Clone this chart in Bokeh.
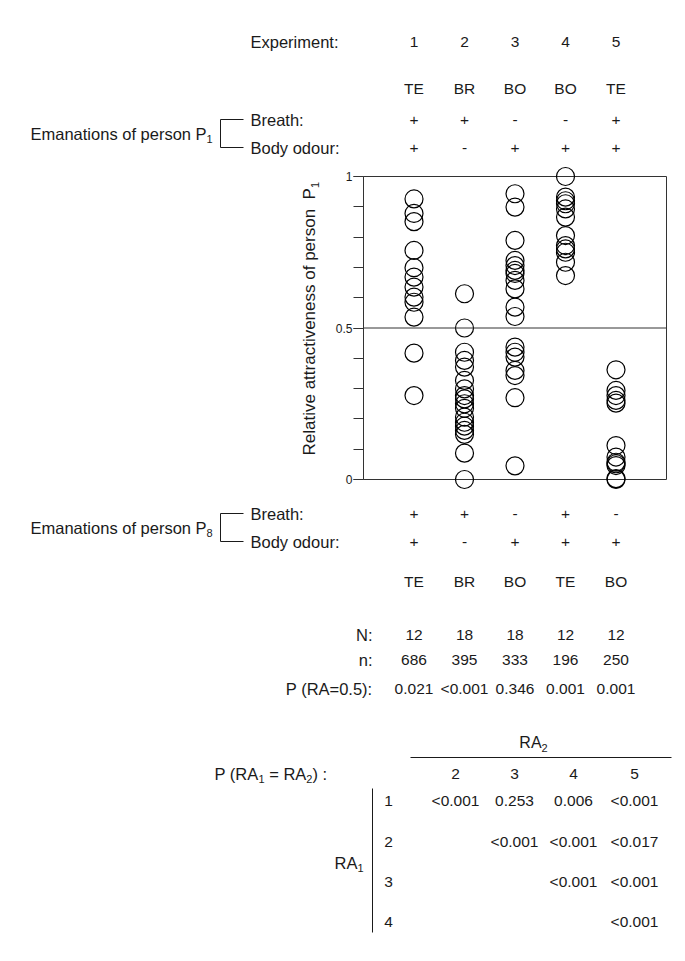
from math import pi
from bokeh.plotting import figure
from bokeh.models import (Label, LabelSet, ColumnDataSource, FixedTicker, Range1d,
                          BoxAnnotation, Arrow, LinearAxis)
from bokeh.core.properties import value
from bokeh.embed import file_html
from bokeh.resources import INLINE

# ---------------- data ----------------
experiments = [1, 2, 3, 4, 5]
experiment_labels = ["1", "2", "3", "4", "5"]
p1_treatment = ["TE", "BR", "BO", "BO", "TE"]
p1_breath = ["+", "+", "-", "-", "+"]
p1_body_odour = ["+", "-", "+", "+", "+"]
p8_breath = ["+", "+", "-", "+", "-"]
p8_body_odour = ["+", "-", "+", "+", "+"]
p8_treatment = ["TE", "BR", "BO", "TE", "BO"]
N_values = ["12", "18", "18", "12", "12"]
n_values = ["686", "395", "333", "196", "250"]
p_ra_half = ["0.021", "<0.001", "0.346", "0.001", "0.001"]

ra_exp1 = [0.926, 0.878, 0.851, 0.756, 0.699, 0.668, 0.635, 0.602, 0.585, 0.536, 0.417, 0.277]
ra_exp2 = [0.613, 0.500, 0.420, 0.393, 0.371, 0.327, 0.299, 0.277, 0.266, 0.250, 0.235,
           0.206, 0.189, 0.176, 0.162, 0.149, 0.087, 0.0]
ra_exp3 = [0.943, 0.899, 0.789, 0.723, 0.706, 0.690, 0.680, 0.657, 0.629, 0.569, 0.538,
           0.437, 0.420, 0.404, 0.360, 0.343, 0.270, 0.045]
ra_exp4 = [1.0, 0.932, 0.920, 0.910, 0.893, 0.866, 0.805, 0.772, 0.761, 0.750, 0.717, 0.673]
ra_exp5 = [0.362, 0.294, 0.277, 0.261, 0.252, 0.112, 0.074, 0.057, 0.046, 0.052, 0.003, 0.0]

y_ticks = [0, 0.5, 1]
y_tick_labels = ["0", "0.5", "1"]
y_minor_ticks = [0.0, 0.1, 0.2, 0.3, 0.4, 0.5, 0.6, 0.7, 0.8, 0.9, 1.0]
chance_level = 0.5

pair_columns = ["2", "3", "4", "5"]
pair_rows = ["1", "2", "3", "4"]
pair_p = [["<0.001", "0.253", "0.006", "<0.001"],
          ["", "<0.001", "<0.001", "<0.017"],
          ["", "", "<0.001", "<0.001"],
          ["", "", "", "<0.001"]]

# ---------------- layout ----------------
FONT = "Liberation Sans"
INK = "#1a1a1a"
LBL = 16.5
NUM = "15.5px"
SUB = 11
W, H = 685, 961

# advance widths (per 1000 em) of Liberation Sans / Arial, for placing subscripts
ADV = {" ": 278, "(": 333, ")": 333, ":": 278, "=": 584, "A": 667, "E": 667, "P": 667,
       "R": 722, "a": 556, "c": 500, "e": 556, "f": 278, "i": 222, "l": 222, "m": 833,
       "n": 556, "o": 556, "p": 556, "r": 333, "s": 500, "t": 278, "v": 500}


def text_w(s, size):
    return sum(ADV.get(c, 556) for c in s) / 1000.0 * size


def X(px):  # page pixel -> experiment axis
    return (px - 363.0) / 50.5


def Y(py):  # page pixel -> relative-attractiveness axis
    return (479.0 - py) / 303.0


p = figure(width=W, height=H, output_backend="svg", toolbar_location=None,
           title=None, x_axis_location=None, y_axis_location=None,
           x_range=Range1d(X(0), X(W)), y_range=Range1d(Y(H), Y(0)),
           min_border=0, min_border_left=0, min_border_right=0,
           min_border_top=0, min_border_bottom=0)
p.outline_line_color = None
p.grid.grid_line_color = None
p.background_fill_color = "white"
p.border_fill_color = "white"

ax = LinearAxis(fixed_location=0, bounds=(0, 1),
                ticker=FixedTicker(ticks=y_ticks, minor_ticks=y_minor_ticks))
ax.major_label_overrides = {t: s for t, s in zip(y_ticks, y_tick_labels)}
ax.axis_line_color = None
ax.major_tick_line_color = "#333333"
ax.minor_tick_line_color = "#333333"
ax.major_tick_out = 10
ax.minor_tick_out = 10
ax.major_tick_in = 0
ax.minor_tick_in = 0
ax.major_label_text_font = FONT
ax.major_label_text_font_size = "12px"
ax.major_label_text_color = INK
ax.major_label_standoff = 1
p.add_layout(ax, "left")

p.add_layout(BoxAnnotation(left=0, right=6, bottom=0, top=1, fill_color=None,
                           fill_alpha=0, line_color="#333333", line_alpha=1.0,
                           line_width=1, level="underlay"))
p.add_layout(Arrow(end=None, x_start=0, y_start=chance_level, x_end=6, y_end=chance_level,
                   line_color="#333333", line_width=1))

xs, ys = [], []
for e, vals in zip(experiments, [ra_exp1, ra_exp2, ra_exp3, ra_exp4, ra_exp5]):
    xs += [e] * len(vals)
    ys += vals
p.scatter(x=xs, y=ys, marker="circle", size=18, fill_color=None,
          line_color="black", line_width=1.2)


def label(text, px, py, align="left", size=LBL, angle=0.0):
    fs = size if isinstance(size, str) else f"{size}px"
    p.add_layout(Label(x=X(px), y=Y(py), text=text, text_align=align,
                       text_baseline="middle", text_font=FONT, text_font_size=fs,
                       text_color=INK, angle=angle))


def rich(parts, px, py, size=LBL, align="left", vertical=False):
    """parts: list of (text, is_subscript); laid out left->right, or bottom->top."""
    widths = [text_w(t, SUB if s else size) for t, s in parts]
    total = sum(widths)
    anchor = py if vertical else px
    if vertical:
        start = anchor if align == "left" else (anchor + total if align == "right"
                                                else anchor + total / 2)
    else:
        start = anchor if align == "left" else (anchor - total if align == "right"
                                                else anchor - total / 2)
    cur = start
    for (t, s), w in zip(parts, widths):
        sz = SUB if s else size
        off = 5 if s else 0
        lead = text_w(t[:len(t) - len(t.lstrip())], sz)
        shown = t.strip()
        if vertical:
            label(shown, px + off, cur - lead, size=sz, angle=pi / 2)
            cur -= w
        else:
            label(shown, cur + lead, py + off, size=sz)
            cur += w


def row(texts, py, cols=None, size=NUM):
    cx = cols if cols is not None else experiments
    src = ColumnDataSource(dict(x=cx, y=[Y(py)] * len(texts), t=texts))
    p.add_layout(LabelSet(x="x", y="y", text="t", source=src, text_align="center",
                          text_baseline="middle", text_font=value(FONT),
                          text_font_size=value(size), text_color=INK))


def seg(x0, y0, x1, y1):
    p.add_layout(Arrow(end=None, x_start=X(x0), y_start=Y(y0), x_end=X(x1), y_end=Y(y1),
                       line_color=INK, line_width=1))


# axis title (vertical, starting at the bottom)
rich([("Relative attractiveness of person", False), ("  P", False), ("1", True)], 309, 455,
     size=17, vertical=True)

# upper header block
LX = 250
label("Experiment:", LX, 41)
row(experiment_labels, 41)
row(p1_treatment, 88)
label("Breath:", LX, 119)
row(p1_breath, 119)
label("Body odour:", LX, 147)
row(p1_body_odour, 147)
rich([("Emanations of person P", False), ("1", True)], 30, 133)
seg(243, 119, 220, 119)
seg(220, 119, 220, 147)
seg(220, 147, 243, 147)

# lower block
label("Breath:", LX, 513)
row(p8_breath, 513)
label("Body odour:", LX, 541)
row(p8_body_odour, 541)
rich([("Emanations of person P", False), ("8", True)], 30, 527)
seg(243, 513, 220, 513)
seg(220, 513, 220, 541)
seg(220, 541, 243, 541)
row(p8_treatment, 581)
RX = 372
label("N:", RX, 634, align="right")
row(N_values, 634)
label("n:", RX, 659, align="right")
row(n_values, 659)
label("P (RA=0.5):", RX, 688, align="right")
row(p_ra_half, 688)

# pairwise table
col_px = [455, 514, 573, 634]
col_x = [X(c) for c in col_px]
rich([("RA", False), ("2", True)], 533, 742, size=16, align="center")
seg(410, 757, 671, 757)
rich([("P (RA", False), ("1", True), (" = RA", False), ("2", True), (") :", False)], 214, 773)
row(pair_columns, 773, cols=col_x)
row_py = [800, 841, 881, 921]
for r, py, vals in zip(pair_rows, row_py, pair_p):
    label(r, 388, py, align="center", size=NUM)
    row(vals, py, cols=col_x)
seg(372, 788, 372, 932)
rich([("RA", False), ("1", True)], 363, 862, align="right")

open("out.html", "w").write(file_html(p, INLINE))
